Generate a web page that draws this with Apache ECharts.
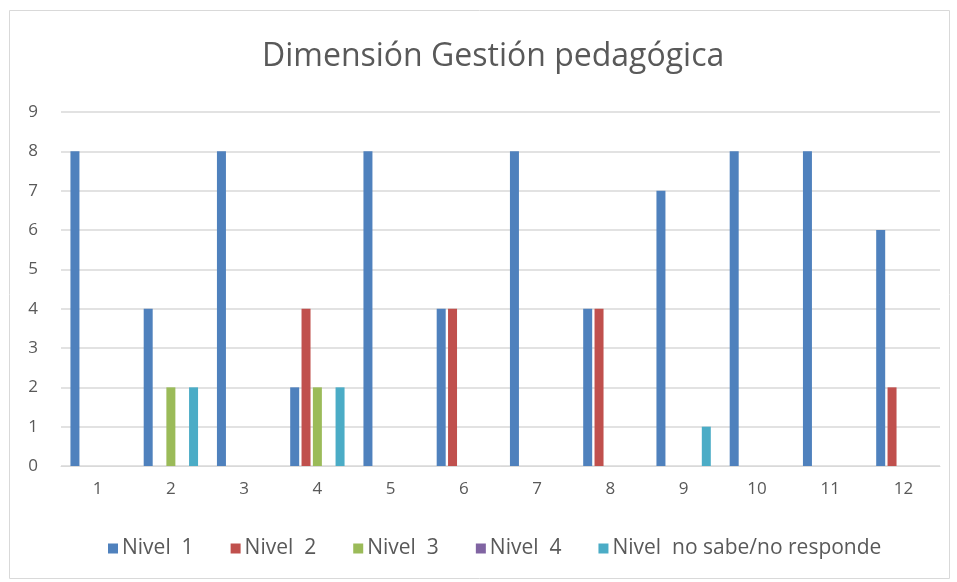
<!DOCTYPE html>
<html lang="es">
<head>
<meta charset="utf-8">
<title>Dimensión Gestión pedagógica</title>
<script src="https://cdn.jsdelivr.net/npm/echarts@6/dist/echarts.min.js"></script>
<style>
    html, body { margin: 0; padding: 0; background: #fff; }
    #chart { width: 957px; height: 582px; }
</style>
</head>
<body>
<div id="chart"></div>
<script type="text/javascript">
    // items 1..12
    let categories = ['1', '2', '3', '4', '5', '6', '7', '8', '9', '10', '11', '12'];
    let seriesNames = ['Nivel  1', 'Nivel  2', 'Nivel  3', 'Nivel  4', 'Nivel  no sabe/no responde'];
    let nivel1 = [8, 4, 8, 2, 8, 4, 8, 4, 7, 8, 8, 6];
    let nivel2 = [0, 0, 0, 4, 0, 4, 0, 4, 0, 0, 0, 2];
    let nivel3 = [0, 2, 0, 2, 0, 0, 0, 0, 0, 0, 0, 0];
    let nivel4 = [0, 0, 0, 0, 0, 0, 0, 0, 0, 0, 0, 0];
    let nivelNs = [0, 2, 0, 2, 0, 0, 0, 0, 1, 0, 0, 0];
    let colors = ['#4f81bd', '#c0504d', '#9bbb59', '#8064a2', '#4bacc6'];

    let allData = [nivel1, nivel2, nivel3, nivel4, nivelNs];
    let font = '"Open Sans", Lato, sans-serif';

    let series = allData.map((d, i) => ({
        name: seriesNames[i],
        type: 'bar',
        data: d,
        barWidth: 9,
        barGap: '26%',
        itemStyle: { color: colors[i] }
    }));

    let chart = echarts.init(document.getElementById('chart'));

    let option = {
        animation: false,
        color: colors,
        textStyle: { fontFamily: font },
        title: {
            text: 'Dimensión Gestión pedagógica',
            left: 257,
            top: 36,
            textStyle: { fontSize: 32, fontWeight: 'normal', color: '#595959', fontFamily: font }
        },
        graphic: [{
            type: 'rect',
            shape: { x: 9.5, y: 10.5, width: 940, height: 568 },
            style: { fill: 'none', stroke: '#d9d9d9', lineWidth: 1 },
            silent: true
        }],
        legend: {
            bottom: 18,
            left: 103,
            itemWidth: 10,
            itemHeight: 10,
            itemGap: 37,
            icon: 'rect',
            textStyle: { fontSize: 21, color: '#595959', fontFamily: font, padding: [0, 0, 0, -1] },
            data: seriesNames
        },
        grid: { left: 61, right: 17, top: 112, bottom: 116 },
        xAxis: {
            type: 'category',
            data: categories,
            axisLine: { lineStyle: { color: '#d9d9d9' } },
            axisTick: { show: false },
            axisLabel: { fontSize: 17, color: '#595959', margin: 15 }
        },
        yAxis: {
            type: 'value',
            min: 0,
            max: 9,
            interval: 1,
            axisLine: { show: false },
            axisTick: { show: false },
            splitLine: { lineStyle: { color: '#d9d9d9', width: 1.5 } },
            axisLabel: { fontSize: 17, color: '#595959', margin: 23 }
        },
        series: series
    };

    chart.setOption(option);
</script>
</body>
</html>
